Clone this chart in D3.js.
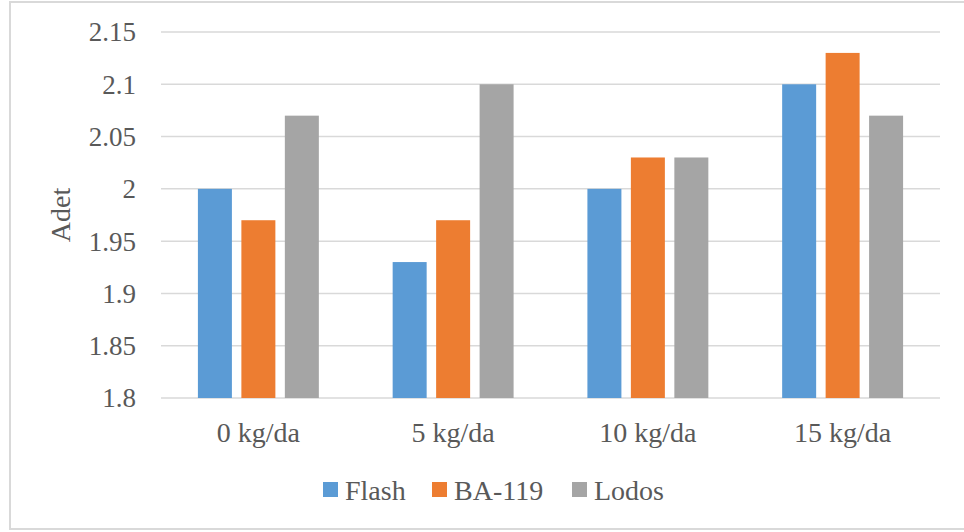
<!DOCTYPE html>
<html>
<head>
<meta charset="utf-8">
<script src="https://cdn.jsdelivr.net/npm/d3@7"></script>
</head>
<body style="margin:0;background:#fff">
<svg id="chart" width="964" height="532"></svg>
<script>
const categories = ["0 kg/da", "5 kg/da", "10 kg/da", "15 kg/da"];
const seriesNames = ["Flash", "BA-119", "Lodos"];
const flash = [2.00, 1.93, 2.00, 2.10];
const ba119 = [1.97, 1.97, 2.03, 2.13];
const lodos = [2.07, 2.10, 2.03, 2.07];
const yTicks = [1.8, 1.85, 1.9, 1.95, 2, 2.05, 2.1, 2.15];
const colors = ["#5B9BD5", "#ED7D31", "#A5A5A5"];

const seriesValues = [flash, ba119, lodos];
const FONT = "'Liberation Serif'";
const TXT = "#595959";
const svg = d3.select("#chart");

// chart-area border
svg.append("rect")
  .attr("x", 10).attr("y", 2).attr("width", 970).attr("height", 527)
  .attr("fill", "none").attr("stroke", "#D9D9D9").attr("stroke-width", 2);

const plotLeft = 161, plotRight = 940, plotTop = 32, plotBottom = 398;

const y = d3.scaleLinear().domain([1.8, 2.15]).range([plotBottom, plotTop]);
const x0 = d3.scaleBand().domain(categories).range([plotLeft, plotRight])
  .paddingInner(0.379).paddingOuter(0.1895);
const x1 = d3.scaleBand().domain(seriesNames).range([0, x0.bandwidth()])
  .paddingInner(0.218).paddingOuter(0);

// gridlines
svg.append("g").selectAll("line").data(yTicks).join("line")
  .attr("x1", plotLeft).attr("x2", plotRight)
  .attr("y1", d => y(d)).attr("y2", d => y(d))
  .attr("stroke", "#D9D9D9").attr("stroke-width", 1.5);

// y axis labels
const yAxis = d3.axisLeft(y).tickValues(yTicks).tickSize(0).tickPadding(0)
  .tickFormat(d => String(+d.toFixed(2)));
const gy = svg.append("g").attr("transform", `translate(136,0)`).call(yAxis);
gy.select(".domain").remove();
gy.selectAll("text")
  .style("font-family", FONT).style("font-size", "27px")
  .attr("fill", TXT).attr("dy", "0.33em");

// bars
const groups = svg.append("g").selectAll("g").data(categories).join("g")
  .attr("transform", d => `translate(${x0(d)},0)`);
groups.selectAll("rect")
  .data((c, i) => seriesNames.map((s, j) => ({ s, v: seriesValues[j][i], j })))
  .join("rect")
  .attr("x", d => x1(d.s))
  .attr("width", x1.bandwidth())
  .attr("y", d => y(d.v))
  .attr("height", d => plotBottom - y(d.v))
  .attr("fill", d => colors[d.j]);

// x axis labels
const xAxis = d3.axisBottom(x0).tickSize(0).tickPadding(0);
const gx = svg.append("g").attr("transform", `translate(0,${plotBottom})`).call(xAxis);
gx.select(".domain").remove();
gx.selectAll("text")
  .style("font-family", FONT).style("font-size", "28px")
  .attr("fill", TXT).attr("dy", null).attr("y", 44);

// y axis title
svg.append("text")
  .attr("transform", "translate(70,215) rotate(-90)")
  .attr("text-anchor", "middle")
  .style("font-family", FONT).style("font-size", "28px")
  .attr("fill", TXT)
  .text("Adet");

// legend
const legendX = [323, 432, 572];
const leg = svg.append("g").selectAll("g").data(seriesNames).join("g")
  .attr("transform", (d, i) => `translate(${legendX[i]},482)`);
leg.append("rect").attr("width", 15).attr("height", 15)
  .attr("fill", (d, i) => colors[i]);
leg.append("text").attr("x", 22).attr("y", 17.5)
  .style("font-family", FONT).style("font-size", "28px")
  .attr("fill", TXT).text(d => d);
</script>
</body>
</html>
